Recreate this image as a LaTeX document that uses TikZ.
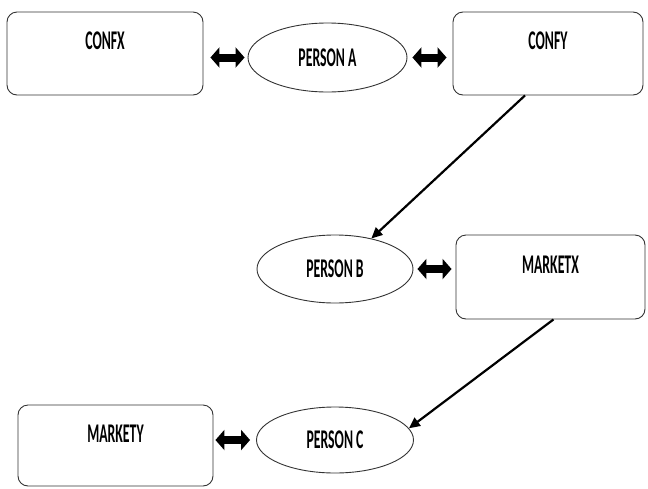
\documentclass[tikz,border=0pt]{standalone}
\usepackage{fontspec}
\setmainfont{Carlito}[FakeStretch=0.51]
\usetikzlibrary{shapes.geometric,arrows.meta,calc}

\tikzset{
  box/.style={draw=black!80, line width=0.9pt, rounded corners=10pt,
    inner sep=0pt},
  person/.style={ellipse, draw=black!80, line width=0.9pt, inner sep=0pt,
    font=\fontsize{27}{30}\selectfont\bfseries},
  boxtext/.style={font=\fontsize{27}{30}\selectfont\bfseries, inner sep=0pt,
    anchor=center},
  dblarrow/.style={line width=8pt,
    {Triangle[length=9pt,width=20pt]}-{Triangle[length=9pt,width=20pt]}},
  flow/.style={line width=2.2pt, -{Triangle[length=11pt,width=10pt]}},
}

\begin{document}
\begin{tikzpicture}[x=1pt,y=-1pt]
  \useasboundingbox (0,0) rectangle (648,488);

  % rounded boxes with their captions near the top
  \node[box, minimum width=196pt, minimum height=83pt,
        label={[boxtext, yshift=-29pt]north:CONFX}] (confx) at (105,53.5) {};
  \node[box, minimum width=190pt, minimum height=83pt,
        label={[boxtext, yshift=-29pt]north:CONFY}] (confy) at (548,53.5) {};
  \node[box, minimum width=189pt, minimum height=84pt,
        label={[boxtext, yshift=-30pt]north:MARKETX}] (marketx) at (550.5,277) {};
  \node[box, minimum width=195pt, minimum height=81pt,
        label={[boxtext, yshift=-29.5pt]north:MARKETY}] (markety) at (115.5,445.5) {};

  % people
  \node[person, minimum width=159pt, minimum height=69pt] (persona) at (327.5,57.5) {PERSON A};
  \node[person, minimum width=156pt, minimum height=68pt] (personb) at (335,269) {PERSON B};
  \node[person, minimum width=157pt, minimum height=66pt] (personc) at (335,440) {PERSON C};

  % two-way links
  \draw[dblarrow, shorten <=7pt, shorten >=3pt] (confx.east |- persona.west) -- (persona.west);
  \draw[dblarrow, shorten <=5pt, shorten >=6pt] (persona.east) -- (persona.east -| confy.west);
  \draw[dblarrow, shorten <=4pt, shorten >=4pt] (personb.east) -- (personb.east -| marketx.west);
  \draw[dblarrow, shorten <=2pt, shorten >=6pt] (markety.east |- personc.west) -- (personc.west);

  % one-way links
  \draw[flow] ($(confy.south)+(-23,0)$) -- (personb.40);
  \draw[flow] ($(marketx.south)+(3,0)$) -- (personc.9);
\end{tikzpicture}
\end{document}
